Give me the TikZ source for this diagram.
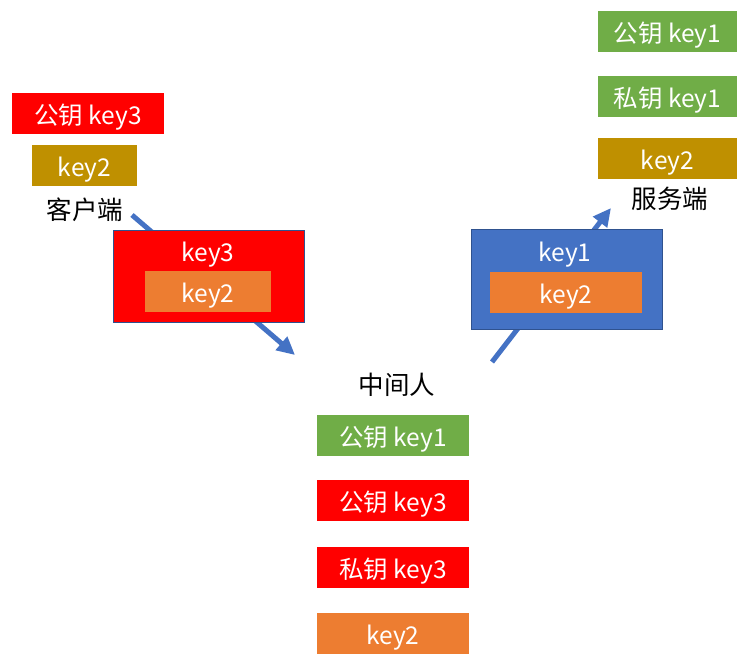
\documentclass[tikz,border=0pt]{standalone}
\usepackage{fontspec}
\setmainfont{Noto Sans CJK SC}
\usetikzlibrary{arrows.meta}

\definecolor{keygreen}{HTML}{70AD47}
\definecolor{keyred}{HTML}{FF0000}
\definecolor{keygold}{HTML}{BF9000}
\definecolor{keyorange}{HTML}{ED7D31}
\definecolor{keyblue}{HTML}{4472C4}
\definecolor{keyedge}{HTML}{2F528F}

\begin{document}
\begin{tikzpicture}[x=1pt, y=-1pt,
    keytext/.style={inner sep=0pt, outer sep=0pt, text=white,
        text height=26pt, text depth=4pt, font=\fontsize{24.5}{28}\selectfont},
    keybox/.style={keytext, minimum height=41pt},
    envelope/.style={draw=keyedge, line width=0.8pt, inner sep=0pt, outer sep=0pt},
    role/.style={text=black, font=\fontsize{25.5}{29}\selectfont},
    flow/.style={keyblue, line width=5pt, -{Triangle[length=18pt, width=17pt]}}]
    \useasboundingbox (0,0) rectangle (755,668);

    % Setas (por baixo das caixas)
    \coordinate (c1) at (132,215);
    \coordinate (c2) at (295,355);
    \coordinate (c3) at (492,362);
    \coordinate (c4) at (611,208);
    \draw[flow] (c1) -- (c2);
    \draw[flow] (c3) -- (c4);

    % Cliente
    \node[keybox, fill=keyred, minimum width=152pt] (clipub) at (88,114) {公钥 key3};
    \node[keybox, fill=keygold, minimum width=105pt] (clikey) at (84.5,166) {key2};
    \node[role] (client) at (85,210) {客户端};

    % Mensagem do cliente
    \node[envelope, fill=keyred, minimum width=191pt, minimum height=92pt] (msgred) at (208.5,276) {};
    \node[keytext] (msgredkey) at (208,251) {key3};
    \node[keybox, fill=keyorange, minimum width=126pt] (msgredin) at (208,291.5) {key2};

    % Servidor
    \node[keybox, fill=keygreen, minimum width=139pt] (srvpub) at (667.5,32) {公钥 key1};
    \node[keybox, fill=keygreen, minimum width=139pt] (srvpriv) at (667.5,97) {私钥 key1};
    \node[keybox, fill=keygold, minimum width=139pt] (srvkey) at (667.5,159) {key2};
    \node[role] (server) at (670,199) {服务端};

    % Mensagem para o servidor
    \node[envelope, fill=keyblue, minimum width=191pt, minimum height=100pt] (msgblue) at (566.5,279) {};
    \node[keytext] (msgbluekey) at (565,251) {key1};
    \node[keybox, fill=keyorange, minimum width=152pt] (msgbluein) at (566,293) {key2};

    % Intermediario
    \node[role] (mitm) at (397,385) {中间人};
    \node[keybox, fill=keygreen, minimum width=152pt] (mitmpub1) at (393,435) {公钥 key1};
    \node[keybox, fill=keyred, minimum width=152pt] (mitmpub3) at (393,500) {公钥 key3};
    \node[keybox, fill=keyred, minimum width=152pt] (mitmpriv3) at (393,567) {私钥 key3};
    \node[keybox, fill=keyorange, minimum width=152pt] (mitmkey) at (393,633) {key2};
\end{tikzpicture}
\end{document}
